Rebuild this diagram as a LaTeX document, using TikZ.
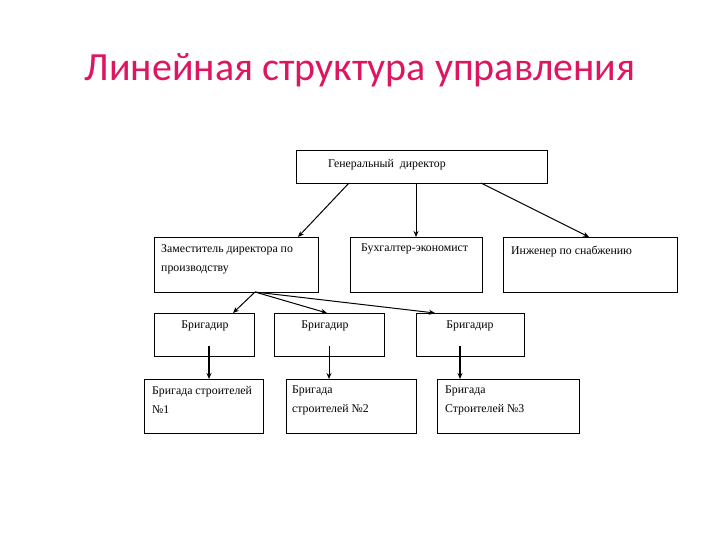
\documentclass[tikz,border=0pt]{standalone}
\usepackage{fontspec}
\setmainfont{Liberation Serif}
\newfontfamily\titlefont{Carlito}
\usetikzlibrary{arrows.meta}
\definecolor{titlepink}{RGB}{222,22,98}
\begin{document}
\begin{tikzpicture}[x=1pt,y=-1pt,
  box/.style={draw=black,line width=0.7pt},
  lbl/.style={inner sep=0pt,anchor=north west,font=\fontsize{11.8}{19}\selectfont,align=left},
  clbl/.style={inner sep=0pt,anchor=north,font=\fontsize{11.8}{19}\selectfont},
  arr/.style={-{Stealth[length=6pt,width=5pt]},line width=1pt},
  thick arr/.style={-{Stealth[length=6pt,width=5pt]},line width=1.5pt}]
\useasboundingbox (0,0) rectangle (720,540);
\fill[white] (0,0) rectangle (720,540);
\node[text=titlepink,font=\titlefont\fontsize{40}{46}\selectfont,inner sep=0pt] (title) at (360,70) {Линейная структура управления};
% boxes
\draw[box] (296,150) rectangle (547,183);
\node[lbl] (gent) at (328,159) {Генеральный\ \ директор};
\draw[box] (154,237) rectangle (318,292);
\node[lbl] (dept) at (161,244) {Заместитель директора по\\производству};
\draw[box] (350,237) rectangle (482,292);
\node[lbl] (buht) at (361,244) {Бухгалтер-экономист};
\draw[box] (503,237) rectangle (677,292);
\node[lbl] (engt) at (511,246) {Инженер по снабжению};
\draw[box] (154,313) rectangle (254,356);
\node[clbl] (b1t) at (205,321) {Бригадир};
\draw[box] (274,313) rectangle (384,356);
\node[clbl] (b2t) at (325,321) {Бригадир};
\draw[box] (416,313) rectangle (524,356);
\node[clbl] (b3t) at (470,321) {Бригадир};
\draw[box] (144,379) rectangle (263,433);
\node[lbl] (g1t) at (152,386) {Бригада строителей\\№1};
\draw[box] (286,379) rectangle (416,433);
\node[lbl] (g2t) at (292,386) {Бригада\\строителей №2};
\draw[box] (437,379) rectangle (579,433);
\node[lbl] (g3t) at (445,386) {Бригада\\Строителей №3};
% anchor points
\coordinate (g1) at (349,183); \coordinate (g2) at (416,183); \coordinate (g3) at (481,183);
\coordinate (d) at (298,237); \coordinate (bu) at (416,237); \coordinate (en) at (589,237);
\coordinate (ds) at (255,292);
\coordinate (r1) at (233,313); \coordinate (r2) at (327,313); \coordinate (r3) at (435,313);
\coordinate (q1) at (209,346); \coordinate (q2) at (329,346); \coordinate (q3) at (460,346);
\coordinate (s1) at (209,379); \coordinate (s2) at (329,379); \coordinate (s3) at (460,379);
\draw[arr] (g1) -- (d);
\draw[arr] (g2) -- (bu);
\draw[arr] (g3) -- (en);
\draw[arr] (ds) -- (r1);
\draw[arr] (ds) -- (r2);
\draw[arr] (ds) -- (r3);
\draw[thick arr] (q1) -- (s1);
\draw[arr] (q2) -- (s2);
\draw[thick arr] (q3) -- (s3);
\end{tikzpicture}
\end{document}
